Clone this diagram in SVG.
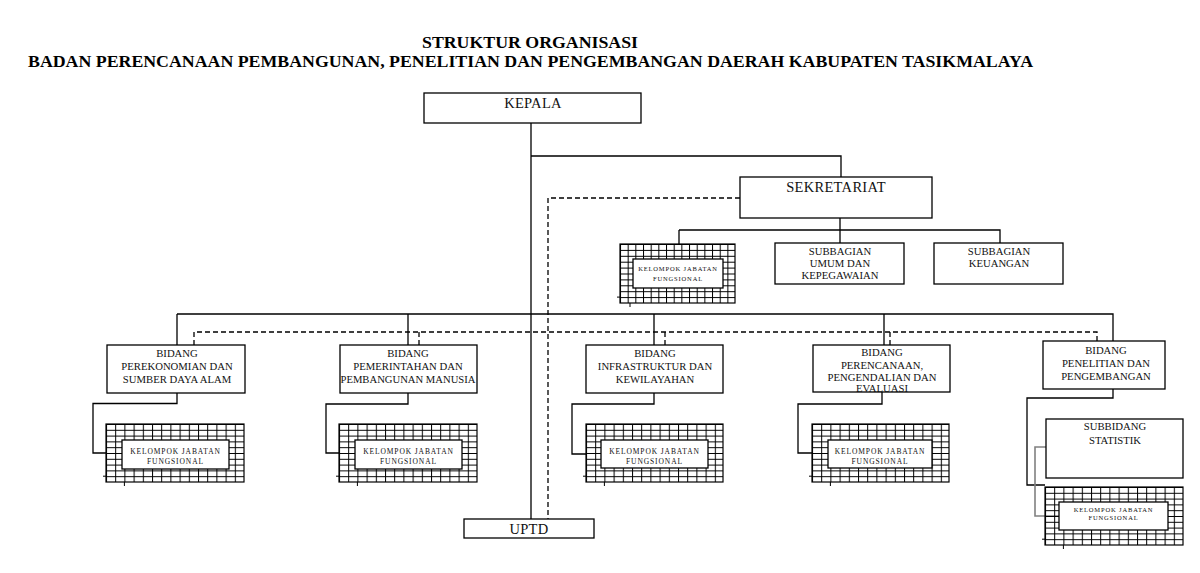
<svg xmlns="http://www.w3.org/2000/svg" width="1200" height="573" viewBox="0 0 1200 573">
<style>
.box{fill:#fff;stroke:#000;stroke-width:1.3}
.ln{fill:none;stroke:#000;stroke-width:1.3}
.dash{fill:none;stroke:#000;stroke-width:1.3;stroke-dasharray:5 3}
.gray{fill:none;stroke:#808080;stroke-width:1.6}
.t{font-family:"Liberation Serif","Times New Roman",serif;fill:#111;text-anchor:middle}
.big{font-size:14.5px;letter-spacing:0.3px}
.mid{font-size:10.7px}
.sm{font-size:7.5px;letter-spacing:0.9px}
.xs{font-size:6.5px;letter-spacing:0.85px}
.title{font-family:"Liberation Serif","Times New Roman",serif;font-weight:bold;font-size:16px;fill:#000}
.stub{fill:none;stroke:#000;stroke-width:1}
</style>
<defs>
<pattern id="gridA" width="9.2" height="5.8" patternUnits="userSpaceOnUse">
<path d="M0 0.5H9.2M0.5 0V5.8" fill="none" stroke="#000" stroke-width="1"/>
</pattern>
<pattern id="gridB" width="7.67" height="5.9" patternUnits="userSpaceOnUse">
<path d="M0 0.5H7.67M0.5 0V5.9" fill="none" stroke="#000" stroke-width="1"/>
</pattern>
</defs>
<rect width="1200" height="573" fill="#fff"/>

<g id="title">
<text class="title" x="422" y="48" textLength="216" lengthAdjust="spacingAndGlyphs">STRUKTUR ORGANISASI</text>
<text class="title" x="28" y="67" textLength="1005" lengthAdjust="spacingAndGlyphs">BADAN PERENCANAAN PEMBANGUNAN, PENELITIAN DAN PENGEMBANGAN DAERAH KABUPATEN TASIKMALAYA</text>
</g>

<g id="connectors">
<path class="ln" d="M531 123V519M531 156H841V177"/>
<path class="dash" d="M740 198H548V519"/>
<path class="ln" d="M840 218V243M679 230H1000V243M679 230V244"/>
<path class="ln" d="M177 314H1113V341M177 314V345M408 314V345M654 314V345M884 314V345"/>
<path class="dash" d="M194 345V332H1097V341M419 332V345M665 332V345M890 332V345"/>
<path class="ln" d="M177 393V403.5H93V453H106"/>
<path class="ln" d="M408 393V404H326V453H339"/>
<path class="ln" d="M654 393V404H572V454H586"/>
<path class="ln" d="M882 392V404H798V453H812"/>
<path class="ln" d="M1113 388V398H1027V485H1045"/>
<path class="gray" d="M1046 447H1035V516H1059"/>
</g>

<g id="kepala">
<rect class="box" x="424" y="93" width="217" height="30"/>
<text class="t big" x="533" y="108">KEPALA</text>
</g>

<g id="sekretariat">
<rect class="box" x="740" y="177" width="192" height="41"/>
<text class="t big" x="836" y="192">SEKRETARIAT</text>
</g>

<g id="kjf-sekretariat" transform="translate(620,244)">
<rect width="115" height="59" fill="url(#gridB)" stroke="#000" stroke-width="1.2"/>
<path class="stub" d="M-3 53.1H0M10 59V63"/>
<rect class="box" x="13" y="15" width="90" height="29"/>
<text class="t xs" x="58" y="27">KELOMPOK JABATAN</text>
<text class="t xs" x="58" y="37">FUNGSIONAL</text>
</g>

<g id="subbagian-umum">
<rect class="box" x="775" y="243" width="129" height="41"/>
<text class="t mid" x="840" y="254.5">SUBBAGIAN</text>
<text class="t mid" x="840" y="267">UMUM DAN</text>
<text class="t mid" x="840" y="279">KEPEGAWAIAN</text>
</g>

<g id="subbagian-keuangan">
<rect class="box" x="934" y="243" width="129" height="41"/>
<text class="t mid" x="999" y="254.5">SUBBAGIAN</text>
<text class="t mid" x="999" y="267">KEUANGAN</text>
</g>

<g id="bidang-1">
<rect class="box" x="107" y="345" width="138" height="48"/>
<text class="t mid" x="177" y="357">BIDANG</text>
<text class="t mid" x="177" y="370">PEREKONOMIAN DAN</text>
<text class="t mid" x="177" y="383">SUMBER DAYA ALAM</text>
</g>
<g id="kjf-1" transform="translate(106,424)">
<rect width="138" height="58" fill="url(#gridA)" stroke="#000" stroke-width="1.2"/>
<path class="stub" d="M-3 52.2H0M18.4 58V62"/>
<rect class="box" x="16" y="16" width="107" height="29"/>
<text class="t sm" x="69.5" y="30">KELOMPOK JABATAN</text>
<text class="t sm" x="69.5" y="39.5">FUNGSIONAL</text>
</g>

<g id="bidang-2">
<rect class="box" x="340" y="345" width="137" height="48"/>
<text class="t mid" x="408" y="357">BIDANG</text>
<text class="t mid" x="408" y="370">PEMERINTAHAN DAN</text>
<text class="t mid" x="408" y="383" textLength="135" lengthAdjust="spacingAndGlyphs">PEMBANGUNAN MANUSIA</text>
</g>
<g id="kjf-2" transform="translate(339,424)">
<rect width="138" height="58" fill="url(#gridA)" stroke="#000" stroke-width="1.2"/>
<path class="stub" d="M-3 52.2H0M18.4 58V62"/>
<rect class="box" x="16" y="16" width="107" height="29"/>
<text class="t sm" x="69.5" y="30">KELOMPOK JABATAN</text>
<text class="t sm" x="69.5" y="39.5">FUNGSIONAL</text>
</g>

<g id="bidang-3">
<rect class="box" x="586" y="345" width="137" height="48"/>
<text class="t mid" x="655" y="357">BIDANG</text>
<text class="t mid" x="655" y="370">INFRASTRUKTUR DAN</text>
<text class="t mid" x="655" y="383">KEWILAYAHAN</text>
</g>
<g id="kjf-3" transform="translate(586,424)">
<rect width="137" height="58" fill="url(#gridA)" stroke="#000" stroke-width="1.2"/>
<path class="stub" d="M-3 52.2H0M18.4 58V62"/>
<rect class="box" x="15" y="16" width="107" height="28"/>
<text class="t sm" x="68.5" y="30">KELOMPOK JABATAN</text>
<text class="t sm" x="68.5" y="39.5">FUNGSIONAL</text>
</g>

<g id="bidang-4">
<rect class="box" x="813" y="345" width="137" height="47"/>
<text class="t mid" x="882" y="356">BIDANG</text>
<text class="t mid" x="882" y="368.5">PERENCANAAN,</text>
<text class="t mid" x="882" y="380.5">PENGENDALIAN DAN</text>
<text class="t mid" x="882" y="392">EVALUASI</text>
</g>
<g id="kjf-4" transform="translate(812,424)">
<rect width="137" height="58" fill="url(#gridA)" stroke="#000" stroke-width="1.2"/>
<path class="stub" d="M-3 52.2H0M18.4 58V62"/>
<rect class="box" x="16" y="16" width="104" height="28"/>
<text class="t sm" x="68" y="30">KELOMPOK JABATAN</text>
<text class="t sm" x="68" y="39.5">FUNGSIONAL</text>
</g>

<g id="bidang-5">
<rect class="box" x="1043" y="341" width="122" height="48"/>
<text class="t mid" x="1106" y="353.5">BIDANG</text>
<text class="t mid" x="1106" y="367">PENELITIAN DAN</text>
<text class="t mid" x="1106" y="380">PENGEMBANGAN</text>
</g>

<g id="subbidang-statistik">
<rect class="box" x="1046" y="419" width="137" height="59"/>
<text class="t mid" x="1115" y="430">SUBBIDANG</text>
<text class="t mid" x="1115" y="443.5">STATISTIK</text>
</g>
<g id="kjf-5" transform="translate(1045,487)">
<rect width="138" height="58" fill="url(#gridA)" stroke="#000" stroke-width="1.2"/>
<path class="stub" d="M-3 52.2H0M18.4 58V62"/>
<rect class="box" x="14" y="15" width="109" height="28"/>
<text class="t xs" x="68.5" y="25">KELOMPOK JABATAN</text>
<text class="t xs" x="68.5" y="33">FUNGSIONAL</text>
</g>

<g id="uptd">
<rect class="box" x="464" y="519" width="130" height="19"/>
<text class="t big" x="529" y="534">UPTD</text>
</g>
</svg>
